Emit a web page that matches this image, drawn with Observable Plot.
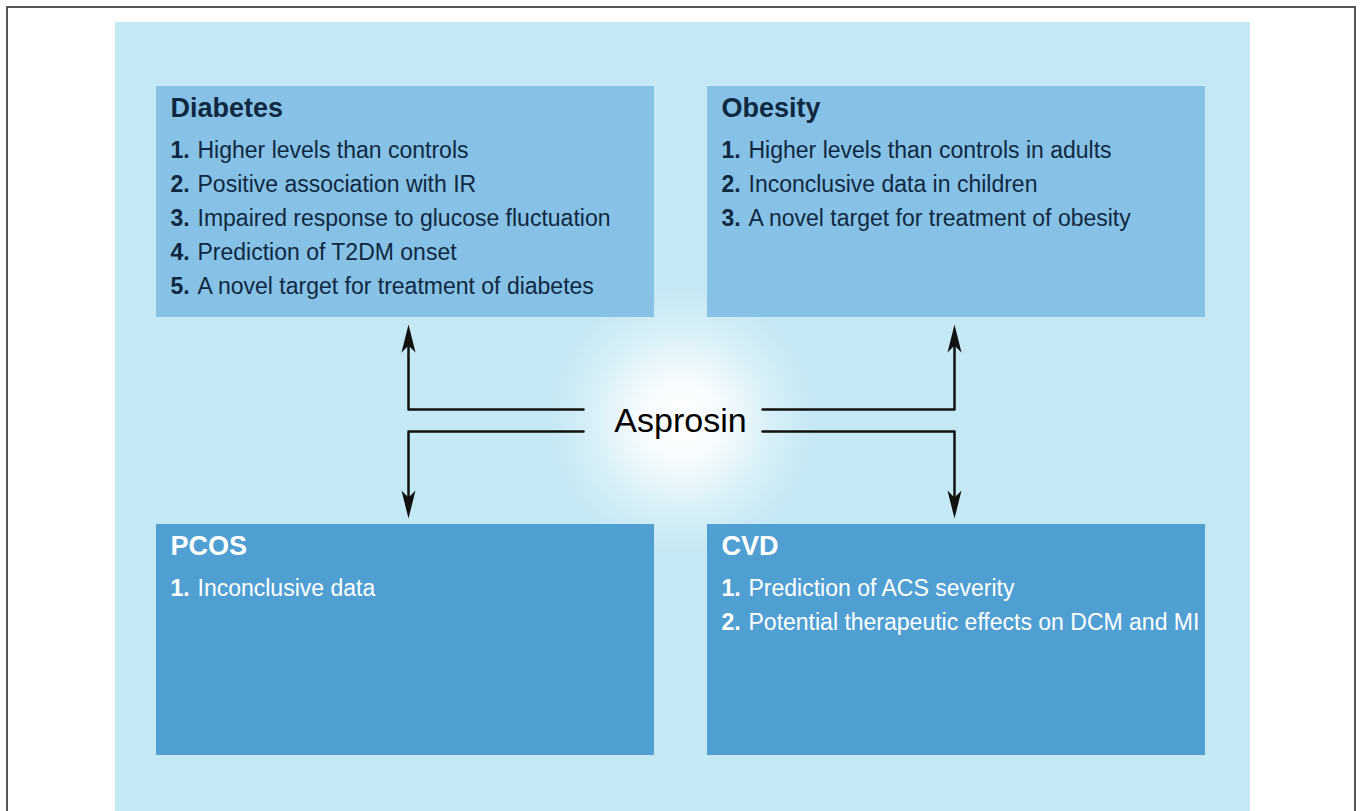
<!DOCTYPE html>
<html><head><meta charset="utf-8">
<script src="https://cdn.jsdelivr.net/npm/d3@7"></script>
<script src="https://cdn.jsdelivr.net/npm/@observablehq/plot@0.6"></script>
<style>html,body{margin:0;padding:0;background:#fff;} svg{display:block}</style>
</head><body><div id="chart"></div>
<script>
// ---- content ----
const titles = ["Diabetes", "Obesity", "PCOS", "CVD"];
const diabetesItems = [
  "Higher levels than controls",
  "Positive association with IR",
  "Impaired response to glucose fluctuation",
  "Prediction of T2DM onset",
  "A novel target for treatment of diabetes"
];
const obesityItems = [
  "Higher levels than controls in adults",
  "Inconclusive data in children",
  "A novel target for treatment of obesity"
];
const pcosItems = ["Inconclusive data"];
const cvdItems = [
  "Prediction of ACS severity",
  "Potential therapeutic effects on DCM and MI"
];
const hubLabel = "Asprosin";

// ---- layout ----
const W = 1360, H = 811;
const boxLeft = [156, 707, 156, 707];
const boxTop = [86, 86, 524, 524];
const boxW = 498, boxH = 231;
const boxFill = ["#87c2e6", "#87c2e6", "#4f9fd3", "#4f9fd3"];
const textFill = ["#0f2842", "#0f2842", "#ffffff", "#ffffff"];
const allItems = [diabetesItems, obesityItems, pcosItems, cvdItems];

const boxes = titles.map((t, i) => ({
  title: t, x1: boxLeft[i], x2: boxLeft[i] + boxW, y1: boxTop[i], y2: boxTop[i] + boxH,
  fill: boxFill[i], color: textFill[i]
}));
const items = allItems.flatMap((list, i) => list.map((s, k) => ({
  num: (k + 1) + ".", text: s, x: boxLeft[i] + 14, y: boxTop[i] + 71 + k * 34, color: textFill[i]
})));

// connectors: hub side end, elbow x, horizontal y, arrow tip y
const connectors = [
  {id: "lu", xa: 583, xb: 408, yh: 409, tip: 324, dir: "up"},
  {id: "ld", xa: 583, xb: 408, yh: 431, tip: 518, dir: "down"},
  {id: "ru", xa: 762, xb: 954, yh: 409, tip: 324, dir: "up"},
  {id: "rd", xa: 762, xb: 954, yh: 431, tip: 518, dir: "down"}
];
const headLen = 26;
const linePts = connectors.flatMap(c => [
  {id: c.id, x: c.xa, y: c.yh},
  {id: c.id, x: c.xb, y: c.yh},
  {id: c.id, x: c.xb, y: c.dir === "up" ? c.tip + headLen - 6 : c.tip - headLen + 6}
]);
const heads = connectors.map(c => ({x: c.xb, y: c.tip, dir: c.dir}));
const headUp = {draw(ctx) { ctx.moveTo(0, 0); ctx.lineTo(-7, 28); ctx.lineTo(0, 21); ctx.lineTo(7, 28); ctx.closePath(); }};
const headDown = {draw(ctx) { ctx.moveTo(0, 0); ctx.lineTo(-7, -28); ctx.lineTo(0, -21); ctx.lineTo(7, -28); ctx.closePath(); }};

const font = "'Liberation Sans', Arial, Helvetica, sans-serif";

const defs = () => {
  const d = d3.create("svg:defs");
  const g = d.append("radialGradient").attr("id", "glow");
  g.append("stop").attr("offset", "0%").attr("stop-color", "#ffffff").attr("stop-opacity", 1);
  g.append("stop").attr("offset", "30%").attr("stop-color", "#ffffff").attr("stop-opacity", 0.85);
  g.append("stop").attr("offset", "65%").attr("stop-color", "#ffffff").attr("stop-opacity", 0.35);
  g.append("stop").attr("offset", "100%").attr("stop-color", "#ffffff").attr("stop-opacity", 0);
  return d.node();
};

const chart = Plot.plot({
  width: W, height: H,
  margin: 0,
  x: {domain: [0, W], range: [0, W], axis: null},
  y: {domain: [0, H], range: [0, H], axis: null},
  style: {fontFamily: font, background: "#ffffff"},
  marks: [
    defs,
    Plot.rect([{x1: 7, x2: 1355, y1: 7, y2: 840}], {x1: "x1", x2: "x2", y1: "y1", y2: "y2", fill: "#ffffff", stroke: "#555555", strokeWidth: 2}),
    Plot.rect([{x1: 115, x2: 1250, y1: 22, y2: 840}], {x1: "x1", x2: "x2", y1: "y1", y2: "y2", fill: "#c4e8f4"}),
    Plot.dot([{x: 681, y: 420}], {x: "x", y: "y", r: 135, fill: "url(#glow)", stroke: "none"}),
    Plot.rect(boxes, {x1: "x1", x2: "x2", y1: "y1", y2: "y2", fill: d => d.fill}),
    Plot.text(boxes, {x: d => d.x1 + 14, y: d => d.y1 + 30, text: "title", fill: d => d.color, fontSize: 27, fontWeight: "bold", textAnchor: "start", lineAnchor: "bottom", fontFamily: font}),
    Plot.text(items, {x: "x", y: "y", text: "num", fill: d => d.color, fontSize: 23, fontWeight: "bold", textAnchor: "start", lineAnchor: "bottom", fontFamily: font}),
    Plot.text(items, {x: d => d.x + 27, y: "y", text: "text", fill: d => d.color, fontSize: 23, textAnchor: "start", lineAnchor: "bottom", fontFamily: font}),
    Plot.line(linePts, {x: "x", y: "y", z: "id", stroke: "#111111", strokeWidth: 2.5, curve: "linear"}),
    Plot.dot(heads.filter(d => d.dir === "up"), {x: "x", y: "y", symbol: headUp, fill: "#111111", stroke: "none"}),
    Plot.dot(heads.filter(d => d.dir === "down"), {x: "x", y: "y", symbol: headDown, fill: "#111111", stroke: "none"}),
    Plot.text([hubLabel], {x: () => 680, y: () => 431, text: d => d, fontSize: 34, fill: "#000000", textAnchor: "middle", lineAnchor: "bottom", fontFamily: font})
  ]
});
document.getElementById("chart").appendChild(chart);
</script>
</body></html>
